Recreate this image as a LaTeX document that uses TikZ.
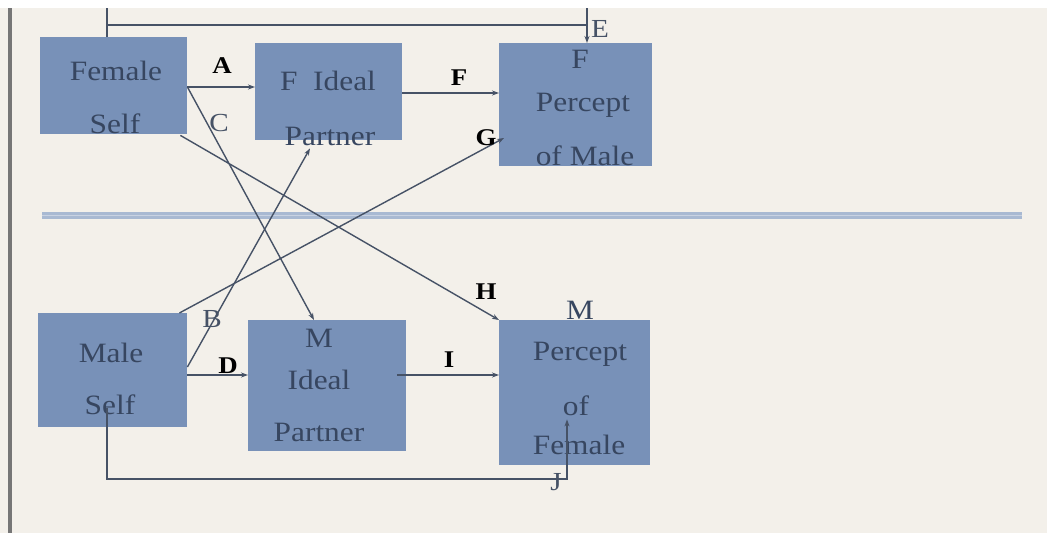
\documentclass[tikz,border=0pt]{standalone}
\usepackage{fontspec}
\setmainfont{Liberation Serif}[FakeStretch=1.12]
\usetikzlibrary{arrows.meta,calc}
\definecolor{paper}{RGB}{243,240,234}
\definecolor{boxfill}{RGB}{120,145,184}
\definecolor{boxtext}{RGB}{55,70,96}
\definecolor{wire}{RGB}{70,82,102}
\definecolor{rulecol}{RGB}{168,185,210}
\definecolor{rulelite}{RGB}{200,210,226}
\definecolor{framecol}{RGB}{118,118,118}

\begin{document}
\begin{tikzpicture}[x=1pt,y=-1pt,
  panel/.style={fill=boxfill, draw=none, inner sep=0pt, anchor=north west},
  txt/.style={text=boxtext, font=\fontsize{28}{30}\selectfont, anchor=base, inner sep=0pt},
  tag/.style={text=black, font=\fontsize{24}{26}\selectfont\bfseries, anchor=base, inner sep=0pt},
  plaintag/.style={text=wire, font=\fontsize{26}{28}\selectfont, anchor=base, inner sep=0pt},
  link/.style={draw=wire, line width=1.4pt, -{Stealth[length=7pt,width=5pt]}},
  plain/.style={draw=wire, line width=1.4pt}]

% page
\useasboundingbox (0,0) rectangle (1047,533);
\fill[white] (0,0) rectangle (1047,8);
\fill[paper] (0,8) rectangle (1047,533);
\fill[framecol] (8,8) rectangle (11.5,533);

% double rule between the two halves
\fill[rulecol] (42,212) rectangle (1022,219);
\draw[rulelite, line width=1pt] (42,215.5) -- (1022,215.5);

% boxes
\node[panel, minimum width=147pt, minimum height=97pt]  (fs)  at (40,37)   {};
\node[panel, minimum width=147pt, minimum height=97pt]  (fip) at (255,43)  {};
\node[panel, minimum width=153pt, minimum height=123pt] (fpm) at (499,43)  {};
\node[panel, minimum width=149pt, minimum height=114pt] (ms)  at (38,313)  {};
\node[panel, minimum width=158pt, minimum height=131pt] (mip) at (248,320) {};
\node[panel, minimum width=151pt, minimum height=145pt] (mpf) at (499,320) {};

% box texts
\node[txt] (fs1) at (116,80)  {Female};
\node[txt] (fs2) at (115,133) {Self};
\node[txt] (fi1) at (328,90)  {F\ \ Ideal};
\node[txt] (fi2) at (330,145) {Partner};
\node[txt] (fp1) at (580,68)  {F};
\node[txt] (fp2) at (583,111) {Percept};
\node[txt] (fp3) at (585,165) {of Male};
\node[txt] (ms1) at (111,362) {Male};
\node[txt] (ms2) at (110,414) {Self};
\node[txt] (mi1) at (319,347) {M};
\node[txt] (mi2) at (319,389) {Ideal};
\node[txt] (mi3) at (319,441) {Partner};
\node[txt] (mp1) at (580,319) {M};
\node[txt] (mp2) at (580,360) {Percept};
\node[txt] (mp3) at (576,415) {of};
\node[txt] (mp4) at (579,454) {Female};

% connector ends
\coordinate (etopL) at (107,8);
\coordinate (etopR) at (587,8);
\coordinate (jturn) at (567,479);

% connectors
\draw[plain] ($(fs.north west)+(67,0)$) -- (etopL);
\draw[plain] (etopL |- 0,25) -- (etopR |- 0,25);
\draw[link]  (etopR) -- ($(fpm.north west)+(88,0)$);
\draw[link]  ($(fs.north east)+(0,50)$) -- ($(fip.north west)+(0,44)$);
\draw[link]  ($(fs.north east)+(0,50)$) -- ($(mip.north west)+(66,0)$);
\draw[link]  ($(fip.north east)+(0,50)$) -- ($(fpm.north west)+(0,50)$);
\draw[link]  ($(fs.south east)+(-7,1)$) -- (mpf.north west);
\draw[link]  ($(ms.north east)+(-8,0)$) -- ($(fpm.north west)+(5,95)$);
\draw[link]  ($(ms.north east)+(0,54)$) -- ($(fip.south west)+(55,8)$);
\draw[link]  ($(ms.north east)+(0,62)$) -- ($(mip.north west)+(0,55)$);
\draw[link]  ($(mip.north east)+(-9,55)$) -- ($(mpf.north west)+(0,55)$);
\draw[link]  ($(ms.south west)+(69,-19)$) |- (jturn) -- ($(mpf.south west)+(68,-46)$);

% connector labels
\node[tag]      (la) at (222,73)  {A};
\node[plaintag] (lc) at (219,131) {C};
\node[tag]      (lf) at (459,85)  {F};
\node[plaintag] (le) at (600,37)  {E};
\node[tag]      (lg) at (486,145) {G};
\node[tag]      (lh) at (486,299) {H};
\node[plaintag] (lb) at (212,327) {B};
\node[tag]      (ld) at (228,373) {D};
\node[tag]      (li) at (449,367) {I};
\node[plaintag] (lj) at (556,490) {J};
\end{tikzpicture}
\end{document}
